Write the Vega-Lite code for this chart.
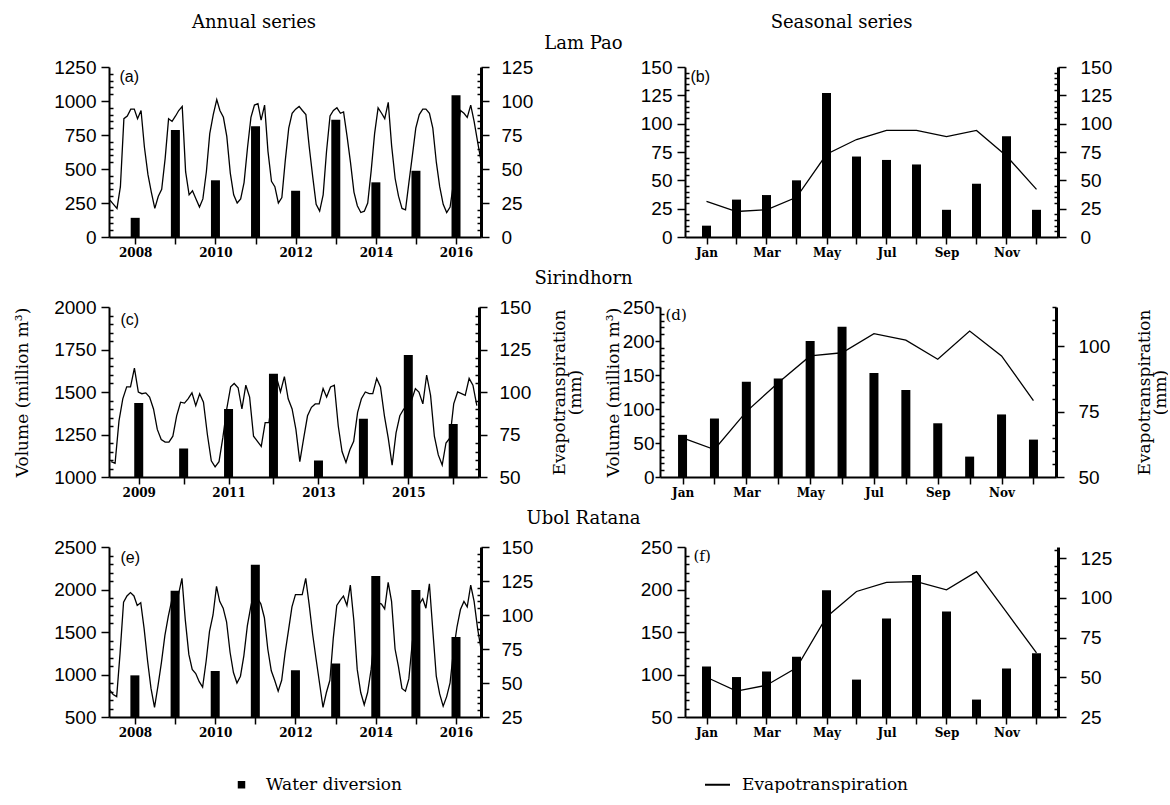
{
  "$schema": "https://vega.github.io/schema/vega-lite/v6.json",
  "background": "white",
  "padding": {"left": 13, "top": 14, "right": 0, "bottom": 0},
  "config": {
    "view": {"stroke": null},
    "font": "DejaVu Serif",
    "axis": {"grid": false, "domainColor": "black", "tickColor": "black", "labelColor": "black", "titleColor": "black", "titleFont": "DejaVu Serif", "titleFontWeight": "normal", "titleFontSize": 17, "labelOverlap": false, "labelFlush": false, "labelBound": false},
    "title": {"font": "DejaVu Serif", "fontSize": 18, "fontWeight": "normal", "color": "black", "frame": "group"}
  },
  "datasets": {
    "aDiv": [{"d":"2008-01","v":141},{"d":"2009-01","v":787},{"d":"2010-01","v":417},{"d":"2011-01","v":814},{"d":"2012-01","v":340},{"d":"2013-01","v":862},{"d":"2014-01","v":402},{"d":"2015-01","v":487},{"d":"2016-01","v":1043}],
    "cDiv": [{"d":"2009-01","v":1435},{"d":"2010-01","v":1168},{"d":"2011-01","v":1400},{"d":"2012-01","v":1608},{"d":"2013-01","v":1097},{"d":"2014-01","v":1343},{"d":"2015-01","v":1717},{"d":"2016-01","v":1312}],
    "eDiv": [{"d":"2008-01","v":990},{"d":"2009-01","v":1985},{"d":"2010-01","v":1040},{"d":"2011-01","v":2290},{"d":"2012-01","v":1050},{"d":"2013-01","v":1130},{"d":"2014-01","v":2160},{"d":"2015-01","v":1995},{"d":"2016-01","v":1440}],
    "aEt": [
      {"d":"2007-07","et":27},{"d":"2007-08","et":24},{"d":"2007-09","et":21},{"d":"2007-10","et":37},{"d":"2007-11","et":87},{"d":"2007-12","et":89},
      {"d":"2008-01","et":94},{"d":"2008-02","et":94},{"d":"2008-03","et":87},{"d":"2008-04","et":93},{"d":"2008-05","et":66},{"d":"2008-06","et":46},{"d":"2008-07","et":33},{"d":"2008-08","et":21},{"d":"2008-09","et":30},{"d":"2008-10","et":35},{"d":"2008-11","et":58},{"d":"2008-12","et":87},
      {"d":"2009-01","et":85},{"d":"2009-02","et":89},{"d":"2009-03","et":93},{"d":"2009-04","et":96},{"d":"2009-05","et":48},{"d":"2009-06","et":31},{"d":"2009-07","et":34},{"d":"2009-08","et":28},{"d":"2009-09","et":22},{"d":"2009-10","et":28},{"d":"2009-11","et":48},{"d":"2009-12","et":76},
      {"d":"2010-01","et":90},{"d":"2010-02","et":101},{"d":"2010-03","et":93},{"d":"2010-04","et":88},{"d":"2010-05","et":74},{"d":"2010-06","et":47},{"d":"2010-07","et":31},{"d":"2010-08","et":25},{"d":"2010-09","et":28},{"d":"2010-10","et":40},{"d":"2010-11","et":66},{"d":"2010-12","et":88},
      {"d":"2011-01","et":97},{"d":"2011-02","et":98},{"d":"2011-03","et":86},{"d":"2011-04","et":97},{"d":"2011-05","et":63},{"d":"2011-06","et":41},{"d":"2011-07","et":37},{"d":"2011-08","et":25},{"d":"2011-09","et":29},{"d":"2011-10","et":56},{"d":"2011-11","et":80},{"d":"2011-12","et":91},
      {"d":"2012-01","et":94},{"d":"2012-02","et":96},{"d":"2012-03","et":93},{"d":"2012-04","et":90},{"d":"2012-05","et":66},{"d":"2012-06","et":44},{"d":"2012-07","et":24},{"d":"2012-08","et":19},{"d":"2012-09","et":31},{"d":"2012-10","et":63},{"d":"2012-11","et":89},{"d":"2012-12","et":93},
      {"d":"2013-01","et":95},{"d":"2013-02","et":91},{"d":"2013-03","et":92},{"d":"2013-04","et":74},{"d":"2013-05","et":55},{"d":"2013-06","et":33},{"d":"2013-07","et":23},{"d":"2013-08","et":18},{"d":"2013-09","et":19},{"d":"2013-10","et":25},{"d":"2013-11","et":49},{"d":"2013-12","et":76},
      {"d":"2014-01","et":95},{"d":"2014-02","et":91},{"d":"2014-03","et":87},{"d":"2014-04","et":99},{"d":"2014-05","et":67},{"d":"2014-06","et":43},{"d":"2014-07","et":30},{"d":"2014-08","et":21},{"d":"2014-09","et":20},{"d":"2014-10","et":40},{"d":"2014-11","et":60},{"d":"2014-12","et":80},
      {"d":"2015-01","et":90},{"d":"2015-02","et":94},{"d":"2015-03","et":94},{"d":"2015-04","et":91},{"d":"2015-05","et":80},{"d":"2015-06","et":55},{"d":"2015-07","et":37},{"d":"2015-08","et":24},{"d":"2015-09","et":18},{"d":"2015-10","et":22},{"d":"2015-11","et":40},{"d":"2015-12","et":75},
      {"d":"2016-01","et":93},{"d":"2016-02","et":91},{"d":"2016-03","et":88},{"d":"2016-04","et":97},{"d":"2016-05","et":85},{"d":"2016-06","et":70},{"d":"2016-07","et":56}
    ],
    "cEt": [
      {"d":"2008-07","et":59},{"d":"2008-08","et":58},{"d":"2008-09","et":83},{"d":"2008-10","et":96},{"d":"2008-11","et":103},{"d":"2008-12","et":103},
      {"d":"2009-01","et":114},{"d":"2009-02","et":100},{"d":"2009-03","et":99},{"d":"2009-04","et":99.5},{"d":"2009-05","et":97},{"d":"2009-06","et":90},{"d":"2009-07","et":78},{"d":"2009-08","et":72},{"d":"2009-09","et":70.5},{"d":"2009-10","et":70.5},{"d":"2009-11","et":74},{"d":"2009-12","et":86},
      {"d":"2010-01","et":94},{"d":"2010-02","et":93.5},{"d":"2010-03","et":96},{"d":"2010-04","et":99.5},{"d":"2010-05","et":92},{"d":"2010-06","et":99},{"d":"2010-07","et":94},{"d":"2010-08","et":75},{"d":"2010-09","et":59.5},{"d":"2010-10","et":56},{"d":"2010-11","et":59},{"d":"2010-12","et":73},
      {"d":"2011-01","et":90},{"d":"2011-02","et":103},{"d":"2011-03","et":105},{"d":"2011-04","et":102.5},{"d":"2011-05","et":90},{"d":"2011-06","et":104},{"d":"2011-07","et":97},{"d":"2011-08","et":74},{"d":"2011-09","et":71},{"d":"2011-10","et":68},{"d":"2011-11","et":82},{"d":"2011-12","et":82},
      {"d":"2012-01","et":99},{"d":"2012-02","et":108},{"d":"2012-03","et":100},{"d":"2012-04","et":109},{"d":"2012-05","et":96},{"d":"2012-06","et":90},{"d":"2012-07","et":78},{"d":"2012-08","et":59},{"d":"2012-09","et":73},{"d":"2012-10","et":86},{"d":"2012-11","et":91},{"d":"2012-12","et":93},
      {"d":"2013-01","et":93},{"d":"2013-02","et":102},{"d":"2013-03","et":97},{"d":"2013-04","et":103},{"d":"2013-05","et":104},{"d":"2013-06","et":80},{"d":"2013-07","et":65},{"d":"2013-08","et":58.5},{"d":"2013-09","et":66},{"d":"2013-10","et":71},{"d":"2013-11","et":88},{"d":"2013-12","et":96},
      {"d":"2014-01","et":100},{"d":"2014-02","et":99},{"d":"2014-03","et":99},{"d":"2014-04","et":108},{"d":"2014-05","et":103},{"d":"2014-06","et":86},{"d":"2014-07","et":73},{"d":"2014-08","et":57},{"d":"2014-09","et":76},{"d":"2014-10","et":86},{"d":"2014-11","et":90},{"d":"2014-12","et":91},
      {"d":"2015-01","et":95},{"d":"2015-02","et":102},{"d":"2015-03","et":100},{"d":"2015-04","et":93},{"d":"2015-05","et":110},{"d":"2015-06","et":98},{"d":"2015-07","et":74},{"d":"2015-08","et":63},{"d":"2015-09","et":57},{"d":"2015-10","et":70},{"d":"2015-11","et":73},{"d":"2015-12","et":93},
      {"d":"2016-01","et":100},{"d":"2016-02","et":99},{"d":"2016-03","et":98},{"d":"2016-04","et":108},{"d":"2016-05","et":104},{"d":"2016-06","et":92}
    ],
    "eEt": [
      {"d":"2007-07","et":45},{"d":"2007-08","et":41.5},{"d":"2007-09","et":40},{"d":"2007-10","et":72},{"d":"2007-11","et":109.5},{"d":"2007-12","et":114},
      {"d":"2008-01","et":116.5},{"d":"2008-02","et":114},{"d":"2008-03","et":107},{"d":"2008-04","et":109},{"d":"2008-05","et":90},{"d":"2008-06","et":66},{"d":"2008-07","et":46},{"d":"2008-08","et":32},{"d":"2008-09","et":48},{"d":"2008-10","et":65},{"d":"2008-11","et":85},{"d":"2008-12","et":99},
      {"d":"2009-01","et":111},{"d":"2009-02","et":109},{"d":"2009-03","et":115},{"d":"2009-04","et":127},{"d":"2009-05","et":96},{"d":"2009-06","et":71},{"d":"2009-07","et":60},{"d":"2009-08","et":57},{"d":"2009-09","et":51},{"d":"2009-10","et":47},{"d":"2009-11","et":66},{"d":"2009-12","et":88},
      {"d":"2010-01","et":100},{"d":"2010-02","et":121},{"d":"2010-03","et":110},{"d":"2010-04","et":105},{"d":"2010-05","et":95},{"d":"2010-06","et":72.6},{"d":"2010-07","et":57.7},{"d":"2010-08","et":50},{"d":"2010-09","et":55},{"d":"2010-10","et":70},{"d":"2010-11","et":92},{"d":"2010-12","et":106},
      {"d":"2011-01","et":118},{"d":"2011-02","et":112},{"d":"2011-03","et":108},{"d":"2011-04","et":98},{"d":"2011-05","et":75},{"d":"2011-06","et":59},{"d":"2011-07","et":52},{"d":"2011-08","et":44},{"d":"2011-09","et":52},{"d":"2011-10","et":72},{"d":"2011-11","et":89},{"d":"2011-12","et":106},
      {"d":"2012-01","et":115},{"d":"2012-02","et":115},{"d":"2012-03","et":115},{"d":"2012-04","et":127},{"d":"2012-05","et":108},{"d":"2012-06","et":86},{"d":"2012-07","et":68},{"d":"2012-08","et":50},{"d":"2012-09","et":32},{"d":"2012-10","et":43},{"d":"2012-11","et":52},{"d":"2012-12","et":83},
      {"d":"2013-01","et":107},{"d":"2013-02","et":111},{"d":"2013-03","et":114},{"d":"2013-04","et":107},{"d":"2013-05","et":122},{"d":"2013-06","et":96},{"d":"2013-07","et":60},{"d":"2013-08","et":43},{"d":"2013-09","et":34},{"d":"2013-10","et":43},{"d":"2013-11","et":60},{"d":"2013-12","et":85},
      {"d":"2014-01","et":109},{"d":"2014-02","et":108},{"d":"2014-03","et":104.5},{"d":"2014-04","et":124},{"d":"2014-05","et":110},{"d":"2014-06","et":75},{"d":"2014-07","et":62},{"d":"2014-08","et":46},{"d":"2014-09","et":44},{"d":"2014-10","et":53},{"d":"2014-11","et":80},{"d":"2014-12","et":98},
      {"d":"2015-01","et":108},{"d":"2015-02","et":112},{"d":"2015-03","et":105},{"d":"2015-04","et":123},{"d":"2015-05","et":89},{"d":"2015-06","et":55},{"d":"2015-07","et":42},{"d":"2015-08","et":33},{"d":"2015-09","et":40},{"d":"2015-10","et":50},{"d":"2015-11","et":74},{"d":"2015-12","et":91},
      {"d":"2016-01","et":104},{"d":"2016-02","et":110},{"d":"2016-03","et":106},{"d":"2016-04","et":122},{"d":"2016-05","et":110},{"d":"2016-06","et":90},{"d":"2016-07","et":75}
    ],
    "bS": [{"m":1,"v":10,"et":31.5},{"m":2,"v":33,"et":22.5},{"m":3,"v":37,"et":24},{"m":4,"v":50,"et":35},{"m":5,"v":127,"et":73},{"m":6,"v":71,"et":86},{"m":7,"v":68,"et":94},{"m":8,"v":64,"et":94},{"m":9,"v":24,"et":88.5},{"m":10,"v":47,"et":94},{"m":11,"v":89,"et":71.5},{"m":12,"v":24,"et":42}],
    "dS": [{"m":1,"v":62,"et":65},{"m":2,"v":86,"et":60.5},{"m":3,"v":140,"et":75},{"m":4,"v":145,"et":86},{"m":5,"v":200,"et":96.3},{"m":6,"v":221,"et":97.5},{"m":7,"v":153,"et":104.8},{"m":8,"v":128,"et":102.3},{"m":9,"v":79,"et":95},{"m":10,"v":30,"et":105.8},{"m":11,"v":92,"et":96.3},{"m":12,"v":55,"et":79.2}],
    "fS": [{"m":1,"v":109.5,"et":50},{"m":2,"v":97,"et":41.3},{"m":3,"v":103.5,"et":45},{"m":4,"v":121,"et":56},{"m":5,"v":199,"et":88},{"m":6,"v":94,"et":104},{"m":7,"v":166,"et":109.7},{"m":8,"v":217,"et":110.2},{"m":9,"v":174,"et":105},{"m":10,"v":70.5,"et":116.5},{"m":11,"v":107,"et":91},{"m":12,"v":125,"et":65.3}]
  },
  "spacing": 11,
  "resolve": {"scale": {"color": "shared"}, "legend": {"color": "shared"}},
  "vconcat": [
    {
      "bounds": "flush",
      "spacing": 204,
      "resolve": {"scale": {"color": "shared"}, "legend": {"color": "shared"}},
      "hconcat": [
        {
          "width": 372, "height": 170,
          "title": {"text": "Annual series", "dx": -41, "offset": 2},
          "layer": [
            {
              "data": {"name": "aDiv"},
              "mark": {"type": "bar", "size": 9, "clip": true},
              "encoding": {
                "x": {"field": "d", "type": "temporal",
                  "scale": {"type": "utc", "nice": false, "domain": [{"year": 2007, "month": 6, "date": 22, "utc": true}, {"year": 2016, "month": 7, "date": 1, "utc": true}]},
                  "axis": {"orient": "bottom", "values": [{"year":2008,"month":1,"date":1,"utc":true},{"year":2009,"month":1,"date":1,"utc":true},{"year":2010,"month":1,"date":1,"utc":true},{"year":2011,"month":1,"date":1,"utc":true},{"year":2012,"month":1,"date":1,"utc":true},{"year":2013,"month":1,"date":1,"utc":true},{"year":2014,"month":1,"date":1,"utc":true},{"year":2015,"month":1,"date":1,"utc":true},{"year":2016,"month":1,"date":1,"utc":true}],
                    "labelExpr": "utcyear(datum.value) % 2 === 0 ? '' + utcyear(datum.value) : ''",
                    "labelFont": "DejaVu Serif", "labelFontSize": 12, "labelFontWeight": "bold", "labelPadding": 3,
                    "tickSize": 7, "tickWidth": 1.5, "domainWidth": 2,
                    "title": "(a)", "titleX": 10, "titleY": -169, "titleAlign": "left", "titleBaseline": "top", "titleAngle": 0, "titleFont": "Liberation Sans", "titleFontSize": 16}},
                "y": {"field": "v", "type": "quantitative",
                  "scale": {"domain": [0, 1250], "nice": false, "zero": false},
                  "axis": {"orient": "left", "values": [0,50,100,150,200,250,300,350,400,450,500,550,600,650,700,750,800,850,900,950,1000,1050,1100,1150,1200,1250], "format": "d",
                    "labelExpr": "datum.value % 250 === 0 ? datum.label : ''",
                    "tickSize": {"condition": {"test": "datum.value % 250 === 0", "value": 8}, "value": -4},
                    "labelFont": "Liberation Sans", "labelFontSize": 19, "labelPadding": 5, "tickWidth": 1.5, "domainWidth": 2, "title": null}},
                "color": {"datum": "Water diversion", "type": "nominal",
                  "scale": {"domain": ["Water diversion", "Evapotranspiration"], "range": ["black", "black"]},
                  "legend": {"orient": "none", "legendX": 124, "legendY": 709, "direction": "horizontal", "title": null, "padding": 0,
                    "symbolSize": 625, "symbolStrokeWidth": 2, "labelFont": "DejaVu Serif", "labelFontSize": 17, "labelColor": "black", "labelOffset": 16, "labelLimit": 400, "columnPadding": 298,
                    "encode": {"symbols": {"update": {
                      "shape": {"signal": "datum.value === 'Water diversion' ? 'square' : 'stroke'"},
                      "size": {"signal": "datum.value === 'Water diversion' ? 56 : 625"},
                      "fill": {"signal": "datum.value === 'Water diversion' ? 'black' : 'transparent'"},
                      "stroke": {"value": "black"},
                      "strokeWidth": {"signal": "datum.value === 'Water diversion' ? 0 : 2"}}}}}}
              }
            },
            {
              "data": {"name": "aEt"},
              "mark": {"type": "line", "strokeWidth": 1.3},
              "encoding": {
                "x": {"field": "d", "type": "temporal",
                  "scale": {"type": "utc", "nice": false, "domain": [{"year": 2007, "month": 6, "date": 22, "utc": true}, {"year": 2016, "month": 7, "date": 1, "utc": true}]},
                  "axis": {"orient": "top", "labels": false, "ticks": false, "domain": false, "title": "Lam Pao", "titleX": 474, "titleY": -24, "titleAlign": "center", "titleBaseline": "middle", "titleAngle": 0, "titleFontSize": 18}},
                "y": {"field": "et", "type": "quantitative",
                  "scale": {"domain": [0, 125], "nice": false, "zero": false},
                  "axis": {"orient": "right", "values": [0,5,10,15,20,25,30,35,40,45,50,55,60,65,70,75,80,85,90,95,100,105,110,115,120,125], "format": "d",
                    "labelExpr": "datum.value % 25 === 0 ? datum.label : ''",
                    "tickSize": {"condition": {"test": "datum.value % 25 === 0", "value": 8}, "value": -4},
                    "labelFont": "Liberation Sans", "labelFontSize": 19, "labelPadding": 12, "tickWidth": 1.5, "domainWidth": 3, "title": null}},
                "color": {"datum": "Evapotranspiration", "type": "nominal"}
              }
            }
          ],
          "resolve": {"scale": {"x": "independent", "y": "independent"}}
        },
        {
          "width": 373, "height": 170,
          "title": {"text": "Seasonal series", "dx": -30, "offset": 26},
          "data": {"name": "bS"},
          "encoding": {
            "x": {"field": "m", "type": "quantitative",
              "scale": {"domain": [0.45, 12.55], "nice": false, "zero": false},
              "axis": {"orient": "bottom", "values": [1,2,3,4,5,6,7,8,9,10,11,12],
                "labelExpr": "datum.value % 2 === 1 ? ['Jan','Feb','Mar','Apr','May','Jun','Jul','Aug','Sep','Oct','Nov','Dec'][datum.value - 1] : ''",
                "labelFont": "DejaVu Serif", "labelFontSize": 12, "labelFontWeight": "bold", "labelPadding": 3,
                "tickSize": 7, "tickWidth": 1.5, "domainWidth": 2,
                "title": "(b)", "titleX": 5, "titleY": -169, "titleAlign": "left", "titleBaseline": "top", "titleAngle": 0, "titleFont": "Liberation Sans", "titleFontSize": 16}}
          },
          "layer": [
            {
              "mark": {"type": "bar", "size": 9, "clip": true},
              "encoding": {
                "y": {"field": "v", "type": "quantitative",
                  "scale": {"domain": [0, 150], "nice": false, "zero": false},
                  "axis": {"orient": "left", "values": [0,5,10,15,20,25,30,35,40,45,50,55,60,65,70,75,80,85,90,95,100,105,110,115,120,125,130,135,140,145,150], "format": "d",
                    "labelExpr": "datum.value % 25 === 0 ? datum.label : ''",
                    "tickSize": {"condition": {"test": "datum.value % 25 === 0", "value": 8}, "value": -4},
                    "labelFont": "Liberation Sans", "labelFontSize": 19, "labelPadding": 5, "tickWidth": 1.5, "domainWidth": 2, "title": null}},
                "color": {"datum": "Water diversion", "type": "nominal"}
              }
            },
            {
              "mark": {"type": "line", "strokeWidth": 1.3},
              "encoding": {
                "y": {"field": "et", "type": "quantitative",
                  "scale": {"domain": [0, 150], "nice": false, "zero": false},
                  "axis": {"orient": "right", "values": [0,5,10,15,20,25,30,35,40,45,50,55,60,65,70,75,80,85,90,95,100,105,110,115,120,125,130,135,140,145,150], "format": "d",
                    "labelExpr": "datum.value % 25 === 0 ? datum.label : ''",
                    "tickSize": {"condition": {"test": "datum.value % 25 === 0", "value": 8}, "value": -4},
                    "labelFont": "Liberation Sans", "labelFontSize": 19, "labelPadding": 14, "tickWidth": 1.5, "domainWidth": 3, "title": null}},
                "color": {"datum": "Evapotranspiration", "type": "nominal"}
              }
            }
          ],
          "resolve": {"scale": {"y": "independent"}}
        }
      ]
    },
    {
      "bounds": "flush",
      "spacing": 181,
      "resolve": {"scale": {"color": "shared"}, "legend": {"color": "shared"}},
      "hconcat": [
        {
          "width": 370, "height": 170,
          "layer": [
            {
              "data": {"name": "cDiv"},
              "mark": {"type": "bar", "size": 9, "clip": true},
              "encoding": {
                "x": {"field": "d", "type": "temporal",
                  "scale": {"type": "utc", "nice": false, "domain": [{"year": 2008, "month": 6, "date": 14, "utc": true}, {"year": 2016, "month": 6, "date": 18, "utc": true}]},
                  "axis": {"orient": "bottom", "values": [{"year":2009,"month":1,"date":1,"utc":true},{"year":2010,"month":1,"date":1,"utc":true},{"year":2011,"month":1,"date":1,"utc":true},{"year":2012,"month":1,"date":1,"utc":true},{"year":2013,"month":1,"date":1,"utc":true},{"year":2014,"month":1,"date":1,"utc":true},{"year":2015,"month":1,"date":1,"utc":true},{"year":2016,"month":1,"date":1,"utc":true}],
                    "labelExpr": "utcyear(datum.value) % 2 === 1 ? '' + utcyear(datum.value) : ''",
                    "labelFont": "DejaVu Serif", "labelFontSize": 12, "labelFontWeight": "bold", "labelPadding": 3,
                    "tickSize": 7, "tickWidth": 1.5, "domainWidth": 2,
                    "title": "(c)", "titleX": 11, "titleY": -166, "titleAlign": "left", "titleBaseline": "top", "titleAngle": 0, "titleFont": "Liberation Sans", "titleFontSize": 16}},
                "y": {"field": "v", "type": "quantitative",
                  "scale": {"domain": [1000, 2000], "nice": false, "zero": false},
                  "axis": {"orient": "left", "values": [1000,1050,1100,1150,1200,1250,1300,1350,1400,1450,1500,1550,1600,1650,1700,1750,1800,1850,1900,1950,2000], "format": "d",
                    "labelExpr": "datum.value % 250 === 0 ? datum.label : ''",
                    "tickSize": {"condition": {"test": "datum.value % 250 === 0", "value": 8}, "value": -4},
                    "labelFont": "Liberation Sans", "labelFontSize": 19, "labelPadding": 5, "tickWidth": 1.5, "domainWidth": 2,
                    "minExtent": 55, "maxExtent": 55,
                    "title": "Volume (million m³)", "titlePadding": 23}},
                "color": {"datum": "Water diversion", "type": "nominal"}
              }
            },
            {
              "data": {"name": "cEt"},
              "mark": {"type": "line", "strokeWidth": 1.3},
              "encoding": {
                "x": {"field": "d", "type": "temporal",
                  "scale": {"type": "utc", "nice": false, "domain": [{"year": 2008, "month": 6, "date": 14, "utc": true}, {"year": 2016, "month": 6, "date": 18, "utc": true}]},
                  "axis": {"orient": "top", "labels": false, "ticks": false, "domain": false, "title": "Sirindhorn", "titleX": 474, "titleY": -29, "titleAlign": "center", "titleBaseline": "middle", "titleAngle": 0, "titleFontSize": 18}},
                "y": {"field": "et", "type": "quantitative",
                  "scale": {"domain": [50, 150], "nice": false, "zero": false},
                  "axis": {"orient": "right", "values": [50,55,60,65,70,75,80,85,90,95,100,105,110,115,120,125,130,135,140,145,150], "format": "d",
                    "labelExpr": "datum.value % 25 === 0 ? datum.label : ''",
                    "tickSize": {"condition": {"test": "datum.value % 25 === 0", "value": 8}, "value": -4},
                    "labelFont": "Liberation Sans", "labelFontSize": 19, "labelPadding": 12, "tickWidth": 1.5, "domainWidth": 3,
                    "minExtent": 52, "maxExtent": 52,
                    "title": ["Evapotranspiration", "(mm)"], "titleAngle": 270, "titleBaseline": "top", "titlePadding": 4, "titleLineHeight": 16}},
                "color": {"datum": "Evapotranspiration", "type": "nominal"}
              }
            }
          ],
          "resolve": {"scale": {"x": "independent", "y": "independent"}}
        },
        {
          "width": 396, "height": 170,
          "data": {"name": "dS"},
          "encoding": {
            "x": {"field": "m", "type": "quantitative",
              "scale": {"domain": [0.45, 12.55], "nice": false, "zero": false},
              "axis": {"orient": "bottom", "values": [1,2,3,4,5,6,7,8,9,10,11,12],
                "labelExpr": "datum.value % 2 === 1 ? ['Jan','Feb','Mar','Apr','May','Jun','Jul','Aug','Sep','Oct','Nov','Dec'][datum.value - 1] : ''",
                "labelFont": "DejaVu Serif", "labelFontSize": 12, "labelFontWeight": "bold", "labelPadding": 3,
                "tickSize": 7, "tickWidth": 1.5, "domainWidth": 2,
                "title": "(d)", "titleX": 5, "titleY": -170, "titleAlign": "left", "titleBaseline": "top", "titleAngle": 0, "titleFont": "DejaVu Serif", "titleFontSize": 15}}
          },
          "layer": [
            {
              "mark": {"type": "bar", "size": 9, "clip": true},
              "encoding": {
                "y": {"field": "v", "type": "quantitative",
                  "scale": {"domain": [0, 250], "nice": false, "zero": false},
                  "axis": {"orient": "left", "values": [0,10,20,30,40,50,60,70,80,90,100,110,120,130,140,150,160,170,180,190,200,210,220,230,240,250], "format": "d",
                    "labelExpr": "datum.value % 50 === 0 ? datum.label : ''",
                    "tickSize": {"condition": {"test": "datum.value % 50 === 0", "value": 5}, "value": -4},
                    "labelFont": "Liberation Sans", "labelFontSize": 19, "labelPadding": 1, "tickWidth": 1.5, "domainWidth": 2,
                    "minExtent": 38, "maxExtent": 38,
                    "title": "Volume (million m³)", "titlePadding": 0}},
                "color": {"datum": "Water diversion", "type": "nominal"}
              }
            },
            {
              "mark": {"type": "line", "strokeWidth": 1.3},
              "encoding": {
                "y": {"field": "et", "type": "quantitative",
                  "scale": {"domain": [50, 115], "nice": false, "zero": false},
                  "axis": {"orient": "right", "values": [50,55,60,65,70,75,80,85,90,95,100,105,110,115], "format": "d",
                    "labelExpr": "datum.value % 25 === 0 ? datum.label : ''",
                    "tickSize": {"condition": {"test": "datum.value % 25 === 0", "value": 8}, "value": -4},
                    "labelFont": "Liberation Sans", "labelFontSize": 19, "labelPadding": 14, "tickWidth": 1.5, "domainWidth": 3,
                    "minExtent": 54, "maxExtent": 54,
                    "title": ["Evapotranspiration", "(mm)"], "titleAngle": 270, "titleBaseline": "top", "titlePadding": 10, "titleLineHeight": 16}},
                "color": {"datum": "Evapotranspiration", "type": "nominal"}
              }
            }
          ],
          "resolve": {"scale": {"y": "independent"}}
        }
      ]
    },
    {
      "bounds": "flush",
      "spacing": 204,
      "resolve": {"scale": {"color": "shared"}, "legend": {"color": "shared"}},
      "hconcat": [
        {
          "width": 372, "height": 170,
          "layer": [
            {
              "data": {"name": "eDiv"},
              "mark": {"type": "bar", "size": 9, "clip": true},
              "encoding": {
                "x": {"field": "d", "type": "temporal",
                  "scale": {"type": "utc", "nice": false, "domain": [{"year": 2007, "month": 6, "date": 25, "utc": true}, {"year": 2016, "month": 7, "date": 1, "utc": true}]},
                  "axis": {"orient": "bottom", "values": [{"year":2008,"month":1,"date":1,"utc":true},{"year":2009,"month":1,"date":1,"utc":true},{"year":2010,"month":1,"date":1,"utc":true},{"year":2011,"month":1,"date":1,"utc":true},{"year":2012,"month":1,"date":1,"utc":true},{"year":2013,"month":1,"date":1,"utc":true},{"year":2014,"month":1,"date":1,"utc":true},{"year":2015,"month":1,"date":1,"utc":true},{"year":2016,"month":1,"date":1,"utc":true}],
                    "labelExpr": "utcyear(datum.value) % 2 === 0 ? '' + utcyear(datum.value) : ''",
                    "labelFont": "DejaVu Serif", "labelFontSize": 12, "labelFontWeight": "bold", "labelPadding": 3,
                    "tickSize": 7, "tickWidth": 1.5, "domainWidth": 2,
                    "title": "(e)", "titleX": 11, "titleY": -168, "titleAlign": "left", "titleBaseline": "top", "titleAngle": 0, "titleFont": "Liberation Sans", "titleFontSize": 16}},
                "y": {"field": "v", "type": "quantitative",
                  "scale": {"domain": [500, 2500], "nice": false, "zero": false},
                  "axis": {"orient": "left", "values": [500,600,700,800,900,1000,1100,1200,1300,1400,1500,1600,1700,1800,1900,2000,2100,2200,2300,2400,2500], "format": "d",
                    "labelExpr": "datum.value % 500 === 0 ? datum.label : ''",
                    "tickSize": {"condition": {"test": "datum.value % 500 === 0", "value": 8}, "value": -4},
                    "labelFont": "Liberation Sans", "labelFontSize": 19, "labelPadding": 5, "tickWidth": 1.5, "domainWidth": 2, "title": null}},
                "color": {"datum": "Water diversion", "type": "nominal"}
              }
            },
            {
              "data": {"name": "eEt"},
              "mark": {"type": "line", "strokeWidth": 1.3},
              "encoding": {
                "x": {"field": "d", "type": "temporal",
                  "scale": {"type": "utc", "nice": false, "domain": [{"year": 2007, "month": 6, "date": 25, "utc": true}, {"year": 2016, "month": 7, "date": 1, "utc": true}]},
                  "axis": {"orient": "top", "labels": false, "ticks": false, "domain": false, "title": "Ubol Ratana", "titleX": 474, "titleY": -29, "titleAlign": "center", "titleBaseline": "middle", "titleAngle": 0, "titleFontSize": 18}},
                "y": {"field": "et", "type": "quantitative",
                  "scale": {"domain": [25, 150], "nice": false, "zero": false},
                  "axis": {"orient": "right", "values": [25,30,35,40,45,50,55,60,65,70,75,80,85,90,95,100,105,110,115,120,125,130,135,140,145,150], "format": "d",
                    "labelExpr": "datum.value % 25 === 0 ? datum.label : ''",
                    "tickSize": {"condition": {"test": "datum.value % 25 === 0", "value": 8}, "value": -4},
                    "labelFont": "Liberation Sans", "labelFontSize": 19, "labelPadding": 12, "tickWidth": 1.5, "domainWidth": 3, "title": null}},
                "color": {"datum": "Evapotranspiration", "type": "nominal"}
              }
            }
          ],
          "resolve": {"scale": {"x": "independent", "y": "independent"}}
        },
        {
          "width": 373, "height": 170,
          "data": {"name": "fS"},
          "encoding": {
            "x": {"field": "m", "type": "quantitative",
              "scale": {"domain": [0.45, 12.55], "nice": false, "zero": false},
              "axis": {"orient": "bottom", "values": [1,2,3,4,5,6,7,8,9,10,11,12],
                "labelExpr": "datum.value % 2 === 1 ? ['Jan','Feb','Mar','Apr','May','Jun','Jul','Aug','Sep','Oct','Nov','Dec'][datum.value - 1] : ''",
                "labelFont": "DejaVu Serif", "labelFontSize": 12, "labelFontWeight": "bold", "labelPadding": 3,
                "tickSize": 7, "tickWidth": 1.5, "domainWidth": 2,
                "title": "(f)", "titleX": 8, "titleY": -169, "titleAlign": "left", "titleBaseline": "top", "titleAngle": 0, "titleFont": "DejaVu Serif", "titleFontSize": 15}}
          },
          "layer": [
            {
              "mark": {"type": "bar", "size": 9, "clip": true},
              "encoding": {
                "y": {"field": "v", "type": "quantitative",
                  "scale": {"domain": [50, 250], "nice": false, "zero": false},
                  "axis": {"orient": "left", "values": [50,60,70,80,90,100,110,120,130,140,150,160,170,180,190,200,210,220,230,240,250], "format": "d",
                    "labelExpr": "datum.value % 50 === 0 ? datum.label : ''",
                    "tickSize": {"condition": {"test": "datum.value % 50 === 0", "value": 8}, "value": -4},
                    "labelFont": "Liberation Sans", "labelFontSize": 19, "labelPadding": 5, "tickWidth": 1.5, "domainWidth": 2, "title": null}},
                "color": {"datum": "Water diversion", "type": "nominal"}
              }
            },
            {
              "mark": {"type": "line", "strokeWidth": 1.3},
              "encoding": {
                "y": {"field": "et", "type": "quantitative",
                  "scale": {"domain": [25, 132], "nice": false, "zero": false},
                  "axis": {"orient": "right", "values": [25,30,35,40,45,50,55,60,65,70,75,80,85,90,95,100,105,110,115,120,125,130], "format": "d",
                    "labelExpr": "datum.value % 25 === 0 ? datum.label : ''",
                    "tickSize": {"condition": {"test": "datum.value % 25 === 0", "value": 8}, "value": -4},
                    "labelFont": "Liberation Sans", "labelFontSize": 19, "labelPadding": 14, "tickWidth": 1.5, "domainWidth": 3, "title": null}},
                "color": {"datum": "Evapotranspiration", "type": "nominal"}
              }
            }
          ],
          "resolve": {"scale": {"y": "independent"}}
        }
      ]
    }
  ]
}
